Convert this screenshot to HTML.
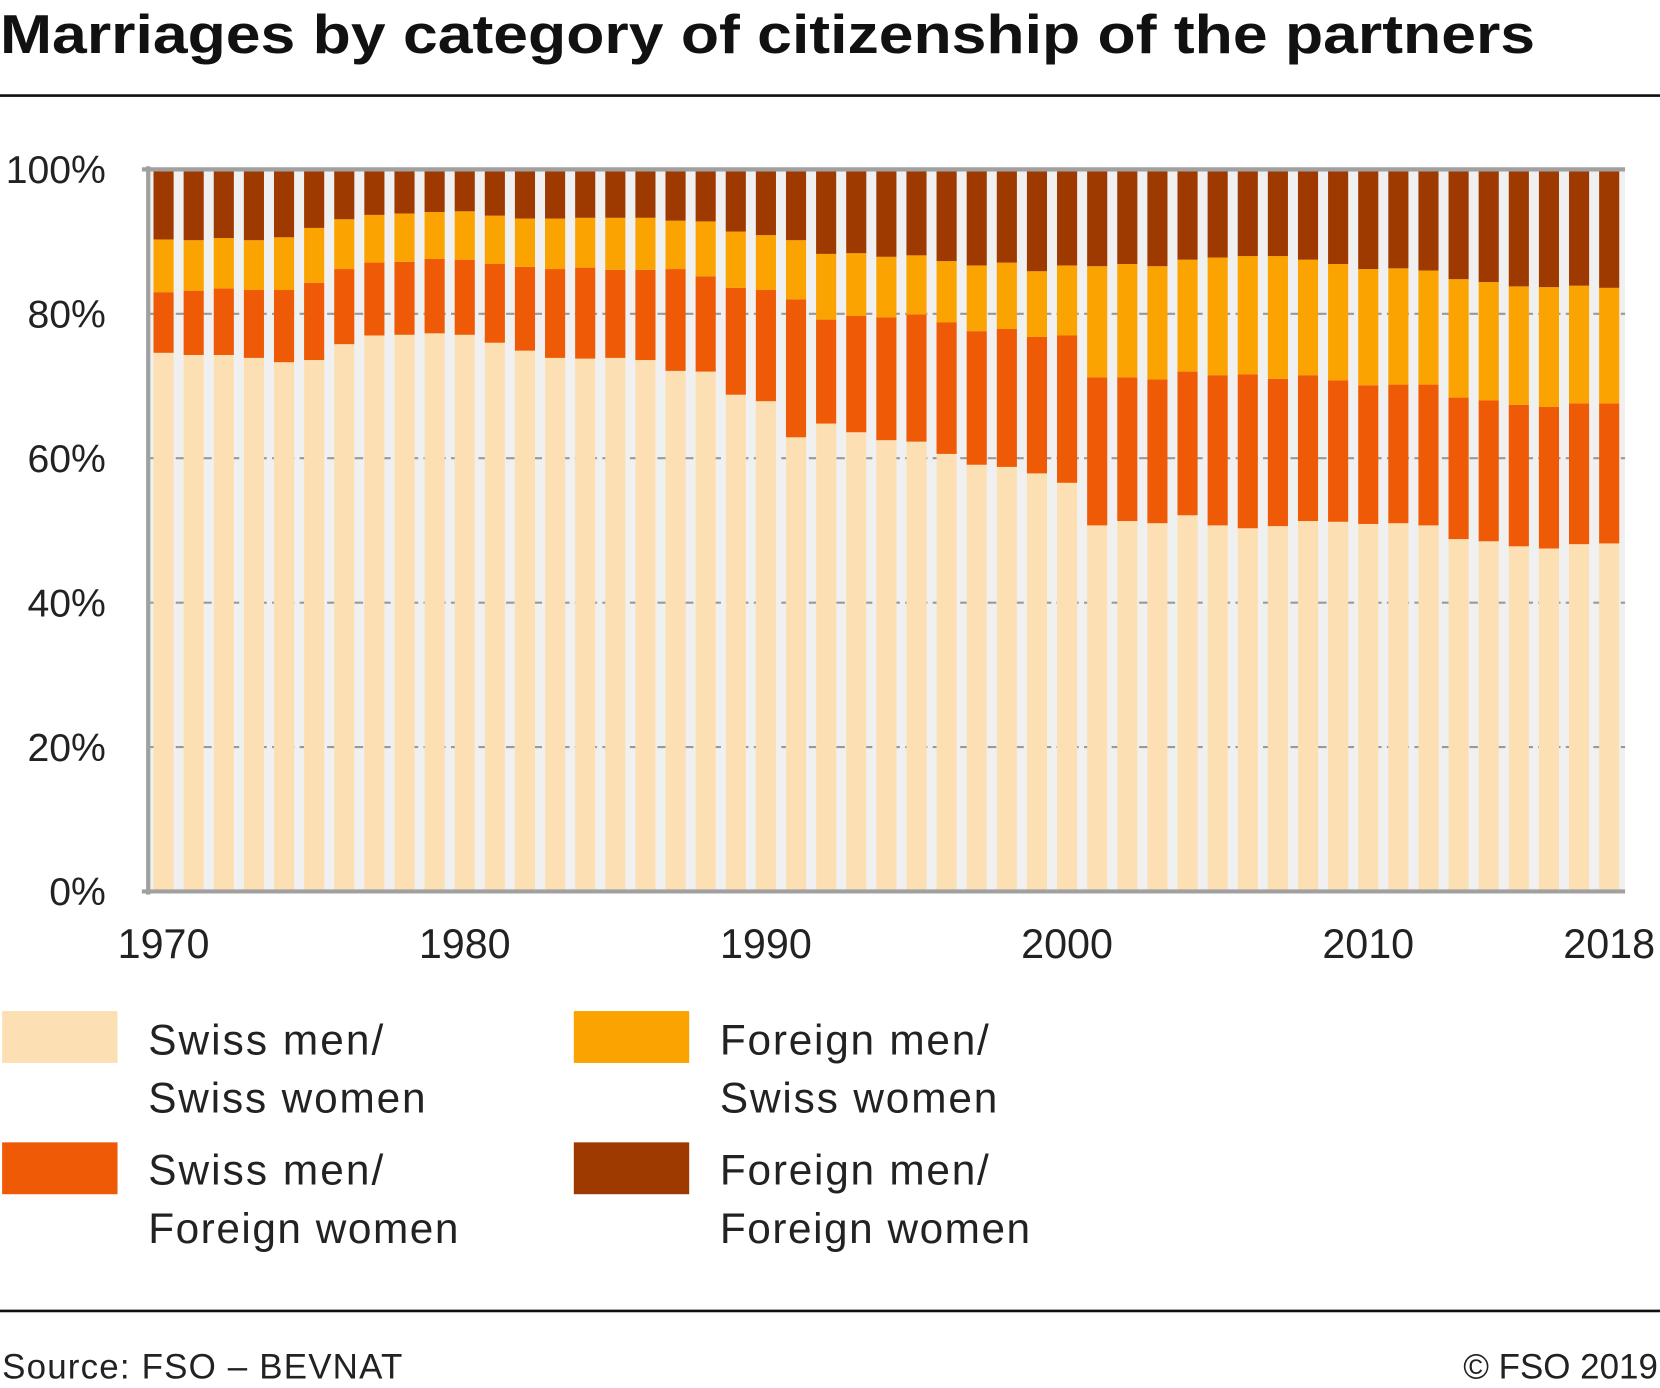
<!DOCTYPE html>
<html><head><meta charset="utf-8"><style>
html,body{margin:0;padding:0;background:#fff;}
svg{display:block;font-family:"Liberation Sans",sans-serif;}
</style></head><body>
<svg id="chart" width="1660" height="1388" viewBox="0 0 1568 1311">
<text x="0" y="50" font-size="52" font-weight="bold" fill="#111" textLength="1450" lengthAdjust="spacingAndGlyphs">Marriages by category of citizenship of the partners</text>
<rect x="0" y="89" width="1568" height="2.5" fill="#111"/>
<rect x="140" y="160" width="1395" height="682" fill="#f0f0f0"/>
<g id="grid"></g>
<g id="bars"></g>
<g id="axes"></g>
<g id="legend">
<rect x="2" y="955" width="109" height="49" fill="#fce0b4"/>
<text x="140" y="996" font-size="40" fill="#222" textLength="222">Swiss men/</text>
<text x="140" y="1051" font-size="40" fill="#222" textLength="262">Swiss women</text>
<rect x="2" y="1079" width="109" height="49" fill="#ee5a06"/>
<text x="140" y="1119" font-size="40" fill="#222" textLength="222">Swiss men/</text>
<text x="140" y="1174" font-size="40" fill="#222" textLength="293">Foreign women</text>
<rect x="542" y="955" width="109" height="49" fill="#fba300"/>
<text x="680" y="996" font-size="40" fill="#222" textLength="254">Foreign men/</text>
<text x="680" y="1051" font-size="40" fill="#222" textLength="262">Swiss women</text>
<rect x="542" y="1079" width="109" height="49" fill="#9e3a00"/>
<text x="680" y="1119" font-size="40" fill="#222" textLength="254">Foreign men/</text>
<text x="680" y="1174" font-size="40" fill="#222" textLength="293">Foreign women</text>
</g>
<rect x="0" y="1237" width="1568" height="2.5" fill="#111"/>
<text x="2" y="1302" font-size="33" fill="#222" textLength="378">Source: FSO – BEVNAT</text>
<text x="1566" y="1302" font-size="33" fill="#222" text-anchor="end">© FSO 2019</text>
</svg>
<script>
const years = [];
for (let y = 1970; y <= 2018; y++) years.push(y);
const swissSwiss = [74.6,74.3,74.3,73.9,73.3,73.6,75.8,77.0,77.1,77.3,77.1,76.0,74.9,73.9,73.8,73.9,73.6,72.1,72.0,68.8,67.9,62.9,64.8,63.6,62.5,62.3,60.6,59.1,58.8,57.9,56.6,50.7,51.3,51.0,52.1,50.7,50.3,50.6,51.3,51.2,50.9,51.0,50.7,48.8,48.5,47.8,47.5,48.1,48.2];
const swissForeign = [8.4,8.9,9.2,9.4,10.0,10.7,10.4,10.1,10.1,10.3,10.4,10.9,11.6,12.3,12.6,12.2,12.5,14.1,13.2,14.8,15.4,19.1,14.4,16.1,17.0,17.6,18.2,18.5,19.1,18.9,20.4,20.5,19.9,19.9,19.9,20.8,21.3,20.4,20.2,19.6,19.2,19.2,19.5,19.6,19.5,19.6,19.6,19.5,19.4];
const foreignSwiss = [7.3,7.0,7.0,6.9,7.3,7.6,6.9,6.6,6.7,6.5,6.7,6.7,6.7,7.0,6.9,7.2,7.2,6.7,7.6,7.8,7.6,8.2,9.1,8.7,8.4,8.2,8.5,9.1,9.2,9.1,9.7,15.4,15.7,15.7,15.5,16.3,16.4,17.0,16.0,16.1,16.1,16.1,15.8,16.4,16.4,16.4,16.6,16.3,16.0];
const foreignForeign = [9.7,9.8,9.5,9.8,9.4,8.1,6.9,6.3,6.1,5.9,5.8,6.4,6.8,6.8,6.7,6.7,6.7,7.1,7.2,8.6,9.1,9.8,11.7,11.6,12.1,11.9,12.7,13.3,12.9,14.1,13.3,13.4,13.1,13.4,12.5,12.2,12.0,12.0,12.5,13.1,13.8,13.7,14.0,15.2,15.6,16.2,16.3,16.1,16.4];
const yTicks = [0,20,40,60,80,100];
const xTickYears = [1970,1980,1990,2000,2010,2018];

const NS = "http://www.w3.org/2000/svg";
const plotTop = 160, plotBottom = 842, plotLeft = 140, plotRight = 1535;
const yScale = v => plotBottom - v / 100 * (plotBottom - plotTop);
const step = (1520 - 154.5) / 48;
const xScale = yr => 154.5 + (yr - 1970) * step;
const barW = 19;
function mk(tag, attrs, parent){const e=document.createElementNS(NS,tag);for(const k in attrs)e.setAttribute(k,attrs[k]);parent.appendChild(e);return e;}

const grid = document.getElementById('grid');
yTicks.forEach(t => {
  if (t > 0 && t < 100) {
    const l = mk('line',{x1:plotLeft,x2:plotRight,y1:yScale(t),y2:yScale(t),stroke:'#999','stroke-width':2,'stroke-dasharray':'8,5'},grid);
    
    
  }
});

const series = [
  {vals: swissSwiss, color:'#fce0b4', name:'swiss-swiss'},
  {vals: swissForeign, color:'#ee5a06', name:'swiss-foreign'},
  {vals: foreignSwiss, color:'#fba300', name:'foreign-swiss'},
  {vals: foreignForeign, color:'#9e3a00', name:'foreign-foreign'}
];
const bars = document.getElementById('bars');
years.forEach((yr, i) => {
  let base = 0;
  series.forEach(s => {
    const v = s.vals[i];
    const top = Math.min(100, base + v);
    const r = mk('rect',{x:xScale(yr)-barW/2,y:yScale(top),width:barW,height:Math.max(0,yScale(base)-yScale(top)),fill:s.color},bars);
    
    
    base = top;
  });
});

const axes = document.getElementById('axes');
const ax1 = mk('line',{x1:plotLeft,x2:plotLeft,y1:plotTop-3,y2:plotBottom+3,stroke:'#a0a0a0','stroke-width':4},axes);


const ax2 = mk('line',{x1:plotLeft-6,x2:plotRight,y1:plotBottom,y2:plotBottom,stroke:'#a0a0a0','stroke-width':4},axes);


const ax3 = mk('line',{x1:plotLeft-6,x2:plotRight,y1:plotTop,y2:plotTop,stroke:'#a0a0a0','stroke-width':4},axes);


yTicks.forEach(t => {
  const tx = mk('text',{x:100,y:yScale(t)+13,'font-size':37,fill:'#222','text-anchor':'end'},axes);
  tx.textContent = t + '%';
  
  
});
xTickYears.forEach(yr => {
  const tx = mk('text',{x:xScale(yr),y:905,'font-size':39,fill:'#222','text-anchor':'middle'},axes);
  tx.textContent = yr;
  
  
});
</script>
</body></html>
